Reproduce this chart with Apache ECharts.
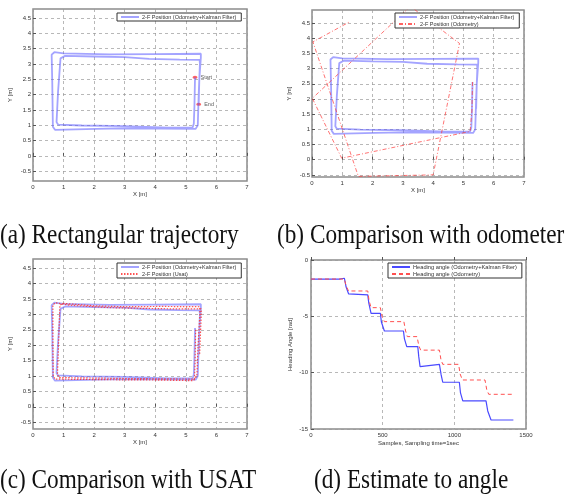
<!DOCTYPE html>
<html>
<head>
<meta charset="utf-8">
<script src="https://cdn.jsdelivr.net/npm/echarts@6/dist/echarts.min.js"></script>
<style>
  html, body { margin: 0; padding: 0; background: #fff; }
  #chart { width: 566px; height: 495px; }
</style>
</head>
<body>
<div id="chart"></div>
<script>
// 2-D position, odometry + kalman filter (two laps)
const trajKF = [
  [5.30, 2.56], [5.28, 1.60], [5.26, 1.05], [5.22, 0.93], [4.40, 0.92], [3.00, 0.97],
  [1.60, 0.99], [0.82, 1.02], [0.77, 1.10], [0.82, 2.10], [0.90, 3.18], [1.05, 3.26],
  [2.00, 3.24], [3.00, 3.22], [3.80, 3.16], [4.80, 3.14], [5.45, 3.13], [5.46, 3.00],
  [5.42, 2.00], [5.39, 1.00], [5.32, 0.88], [4.20, 0.89], [3.00, 0.90], [2.08, 0.88],
  [0.72, 0.85], [0.65, 0.95], [0.63, 2.40], [0.61, 3.30], [0.70, 3.38], [1.00, 3.34],
  [2.50, 3.31], [4.00, 3.32], [5.49, 3.33], [5.49, 3.20], [5.44, 2.50], [5.42, 1.68]
];
// 2-D position, odometry only
const trajOdo = [
  [5.30, 2.56], [5.28, 1.60], [5.22, 0.93], [0.98, 0.05], [0.01, 2.02], [3.25, 5.05],
  [4.87, 3.83], [4.00, -0.50], [1.53, -0.55], [0.03, 3.88], [1.24, 4.54]
];
// 2-D position from USAT
const trajUsat = [
  [5.32, 2.50], [5.30, 1.40], [5.28, 0.90], [4.00, 0.91], [3.00, 0.92], [1.60, 0.94],
  [0.85, 0.95], [0.80, 1.05], [0.84, 2.20], [0.88, 3.30], [1.00, 3.36], [2.00, 3.28],
  [3.00, 3.25], [4.20, 3.26], [5.45, 3.25], [5.46, 3.05], [5.40, 2.00], [5.36, 1.00],
  [5.25, 0.85], [4.00, 0.87], [2.50, 0.88], [0.72, 0.90], [0.66, 1.00], [0.65, 2.20],
  [0.65, 3.30], [0.72, 3.38], [1.20, 3.30], [2.50, 3.22], [3.50, 3.20], [4.60, 3.18],
  [5.50, 3.18], [5.50, 2.90], [5.47, 2.20], [5.45, 1.70]
];
const startEnd = [[5.30, 2.56], [5.42, 1.68]];
const markNames = ['Start', 'End'];

// heading angle [rad] vs samples
const headKF = [
  [0, -1.69], [198, -1.69], [210, -1.60], [233, -1.62], [245, -2.40], [262, -3.00],
  [268, -3.10], [396, -3.10], [403, -3.80], [419, -4.73], [484, -4.73], [491, -5.50],
  [512, -6.30], [645, -6.30], [652, -7.00], [668, -7.69], [745, -7.69], [752, -8.60],
  [761, -9.46], [896, -9.27], [908, -10.20], [919, -10.85], [1035, -10.85], [1043, -11.80],
  [1059, -12.50], [1221, -12.50], [1233, -13.40], [1256, -14.20], [1412, -14.20]
];
const headOdo = [
  [0, -1.69], [233, -1.69], [245, -2.30], [262, -2.75], [396, -2.75], [405, -3.60],
  [419, -4.23], [484, -4.23], [496, -5.00], [512, -5.47], [648, -5.47], [660, -6.30],
  [672, -6.80], [740, -6.80], [752, -7.60], [765, -8.00], [896, -8.00], [906, -8.80],
  [919, -9.26], [1030, -9.26], [1040, -10.10], [1056, -10.65], [1214, -10.65], [1226, -11.50],
  [1240, -11.92], [1412, -11.92]
];

const posTicks = [-0.5, 0, 0.5, 1, 1.5, 2, 2.5, 3, 3.5, 4, 4.5];
const captions = [
  '(a) Rectangular trajectory', '(b) Comparison with odometer',
  '(c) Comparison with USAT', '(d) Estimate to angle'
];
const nameKF = '2-F Position (Odometry+Kalman Filter)';
const nameOdo = '2-F Position (Odometry)';
const nameUsat = '2-F Position (Usat)';
const nameHeadKF = 'Heading angle (Odometry+Kalman Filter)';
const nameHeadOdo = 'Heading angle (Odometry)';

const chart = echarts.init(document.getElementById('chart'), null, { renderer: 'canvas' });

const tinyFont = { fontFamily: 'Liberation Sans', fontSize: 6, color: '#333' };
const gridLine = { show: true, lineStyle: { color: '#9a9a9a', width: 0.7, type: [3, 3] } };
const boxGrid = (l, t, w, h) => ({
  left: l, top: t, width: w, height: h,
  show: true, borderColor: '#8c8c8c', borderWidth: 1.5, backgroundColor: '#fff'
});

function posX(idx, name) {
  return {
    gridIndex: idx, type: 'value', min: 0, max: 7, interval: 1,
    name: name, nameLocation: 'middle', nameGap: 10,
    nameTextStyle: tinyFont,
    axisLine: { show: false },
    axisTick: { show: true, inside: true, length: 3, lineStyle: { color: '#555' } },
    axisLabel: Object.assign({ margin: 3 }, tinyFont),
    splitLine: gridLine
  };
}
function posY(idx, lo, hi) {
  return {
    gridIndex: idx, type: 'value', min: lo, max: hi,
    name: 'Y [m]', nameLocation: 'middle', nameGap: 20, nameRotate: 90,
    nameTextStyle: tinyFont,
    axisLine: { show: false },
    axisTick: { show: true, inside: true, length: 3, customValues: posTicks, lineStyle: { color: '#555' } },
    axisLabel: Object.assign({ margin: 2, customValues: posTicks }, tinyFont),
    splitLine: gridLine
  };
}
function legendAt(l, t, names, size) {
  return {
    left: l, top: t, orient: 'vertical', data: names,
    backgroundColor: '#fff', borderColor: '#333', borderWidth: 1,
    padding: [1, 5, 1, 3], itemGap: 1, itemWidth: 18, itemHeight: 5,
    selectedMode: false,
    itemStyle: { opacity: 0 },
    textStyle: { fontFamily: 'Liberation Sans', fontSize: size, color: '#333', padding: [0, 0, 0, -2] }
  };
}
const kfStyle = { color: 'rgba(90,90,255,0.55)', width: 1.8 };

const option = {
  animation: false,
  backgroundColor: '#fff',
  grid: [
    boxGrid(33, 9, 214, 172),
    boxGrid(312, 10, 212, 167),
    boxGrid(33, 259, 214, 170),
    boxGrid(311, 260, 215, 169)
  ],
  xAxis: [
    posX(0, 'X [m]'),
    posX(1, 'X [m]'),
    posX(2, 'X [m]'),
    {
      gridIndex: 3, type: 'value', min: 0, max: 1500, interval: 500,
      name: 'Samples, Sampling time=1sec', nameLocation: 'middle', nameGap: 11,
      nameTextStyle: tinyFont,
      axisLine: { show: false },
      axisTick: { show: true, inside: true, length: 3, lineStyle: { color: '#555' } },
      axisLabel: Object.assign({ margin: 3, formatter: v => String(v) }, tinyFont),
      splitLine: gridLine
    }
  ],
  yAxis: [
    posY(0, -0.82, 4.79),
    posY(1, -0.57, 4.93),
    posY(2, -0.72, 4.8),
    {
      gridIndex: 3, type: 'value', min: -15, max: 0, interval: 5,
      name: 'Heading Angle [rad]', nameLocation: 'middle', nameGap: 18, nameRotate: 90,
      nameTextStyle: tinyFont,
      axisLine: { show: false },
      axisTick: { show: true, inside: true, length: 3, lineStyle: { color: '#555' } },
      axisLabel: Object.assign({ margin: 3 }, tinyFont),
      splitLine: gridLine
    }
  ],
  legend: [
    legendAt(117, 13, [nameKF], 5.5),
    legendAt(395, 13, [nameKF, nameOdo], 5.5),
    legendAt(117, 263, [nameKF, nameUsat], 5.5),
    legendAt(388, 263, [nameHeadKF, nameHeadOdo], 5.7)
  ],
  series: [
    {
      name: nameKF, type: 'line', xAxisIndex: 0, yAxisIndex: 0, data: trajKF,
      symbol: 'none', lineStyle: kfStyle, color: kfStyle.color
    },
    {
      name: 'marks', type: 'scatter', xAxisIndex: 0, yAxisIndex: 0,
      data: startEnd.map((p, i) => ({ value: p, name: markNames[i] })),
      symbolSize: [5, 3], itemStyle: { color: '#ff3b3b' },
      label: {
        show: true, position: 'right', distance: 3, formatter: '{b}',
        fontFamily: 'Liberation Sans', fontSize: 5.5, color: '#333'
      }
    },
    {
      name: nameKF, type: 'line', xAxisIndex: 1, yAxisIndex: 1, data: trajKF,
      symbol: 'none', lineStyle: kfStyle, color: kfStyle.color
    },
    {
      name: nameOdo, type: 'line', xAxisIndex: 1, yAxisIndex: 1, data: trajOdo,
      symbol: 'none', color: 'rgba(255,60,60,0.8)',
      lineStyle: { color: 'rgba(255,60,60,0.8)', width: 0.9, type: [4, 2, 1, 2] }
    },
    {
      name: nameKF, type: 'line', xAxisIndex: 2, yAxisIndex: 2, data: trajKF,
      symbol: 'none', lineStyle: kfStyle, color: kfStyle.color
    },
    {
      name: nameUsat, type: 'line', xAxisIndex: 2, yAxisIndex: 2, data: trajUsat,
      symbol: 'none', color: 'rgba(255,40,40,0.8)',
      lineStyle: { color: 'rgba(255,40,40,0.8)', width: 1.2, type: [1.5, 1.5] }
    },
    {
      name: nameHeadKF, type: 'line', xAxisIndex: 3, yAxisIndex: 3, data: headKF,
      symbol: 'none', color: '#4a4aff',
      lineStyle: { color: '#4a4aff', width: 1.2 }
    },
    {
      name: nameHeadOdo, type: 'line', xAxisIndex: 3, yAxisIndex: 3, data: headOdo,
      symbol: 'none', color: '#ff5050',
      lineStyle: { color: '#ff5050', width: 1, type: [4, 3] }
    }
  ],
  graphic: [
    { type: 'text', left: 0, top: 222, scaleX: 0.83, style: { text: captions[0] } },
    { type: 'text', left: 277, top: 222, scaleX: 0.83, style: { text: captions[1] } },
    { type: 'text', left: 0, top: 467, scaleX: 0.83, style: { text: captions[2] } },
    { type: 'text', left: 314, top: 467, scaleX: 0.83, style: { text: captions[3] } }
  ].map(g => {
    g.style.font = '28px "Liberation Serif"';
    g.style.fill = '#111';
    return g;
  })
};

chart.setOption(option);
</script>
</body>
</html>
